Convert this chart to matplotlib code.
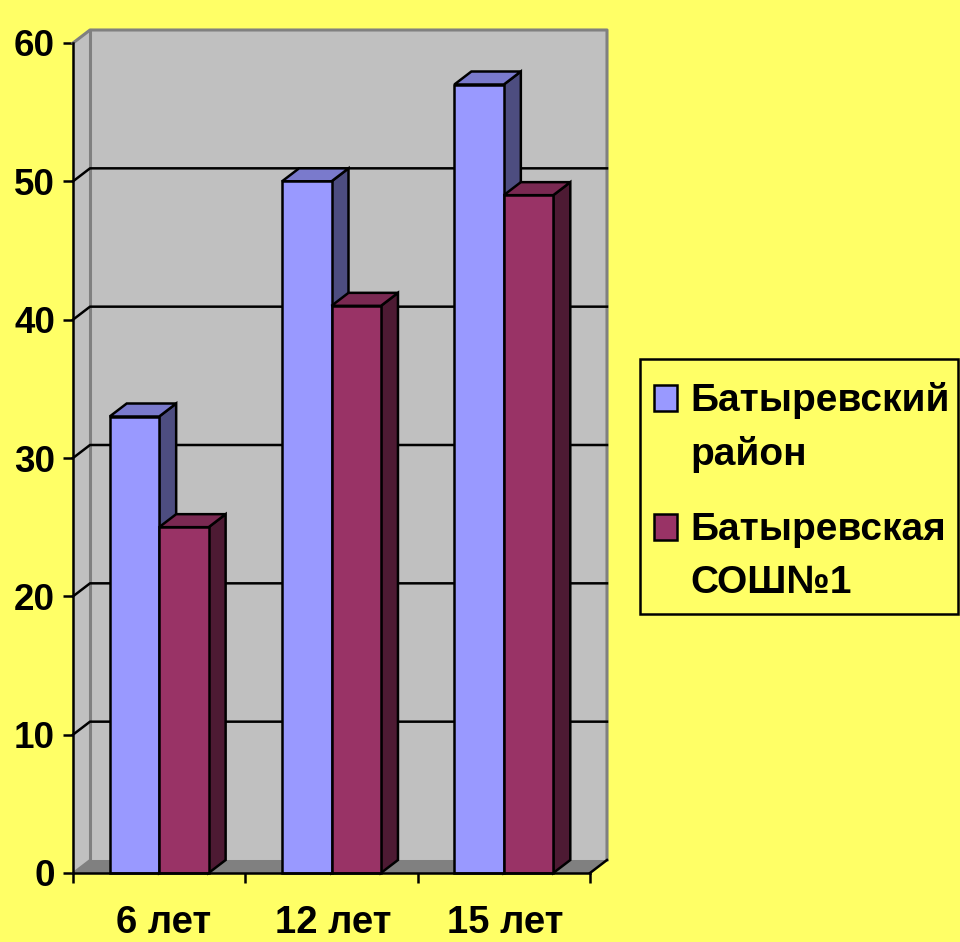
import matplotlib
matplotlib.use("Agg")
import matplotlib.pyplot as plt
from matplotlib.patches import Patch, Polygon, Rectangle

categories = ["6 лет", "12 лет", "15 лет"]
series_names = ["Батыревский\nрайон", "Батыревская\nСОШ№1"]
rayon = [33, 50, 57]
school = [25, 41, 49]
y_ticks = [0, 10, 20, 30, 40, 50, 60]

BG = "#FFFF66"
FRONT = ["#9999FF", "#993366"]
TOP = ["#7A7ACC", "#7A2952"]
SIDE = ["#4D4D80", "#4D1A33"]
WALL = "#C0C0C0"
EDGE = "#808080"

# глубина псевдо-3D в единицах данных: 17 px вправо, 13 px вверх
DX = 17 / 172.3
DY = 13 / 13.83
BAR_W = 0.287
LW = 1.8

fig = plt.figure(figsize=(9.6, 9.42), dpi=100, facecolor=BG)
ax = fig.add_axes([73 / 960, 69 / 942, 517 / 960, 830 / 942], facecolor="none")
ax.set_xlim(0, 3)
ax.set_ylim(0, 60)


def poly(points, face, edge="none", lw=0, z=1):
    ax.add_patch(Polygon(points, closed=True, facecolor=face, edgecolor=edge,
                         linewidth=lw, zorder=z, clip_on=False))


# стенки и пол
poly([(0, 0), (DX, DY), (DX, 60 + DY), (0, 60)], WALL, z=1)
poly([(DX, DY), (3 + DX, DY), (3 + DX, 60 + DY), (DX, 60 + DY)], WALL, z=1)
poly([(0, 0), (3, 0), (3 + DX, DY), (DX, DY)], EDGE, z=1)
ax.plot([0, DX, 3 + DX, 3 + DX], [60, 60 + DY, 60 + DY, DY], color=EDGE, lw=2.2, zorder=2, clip_on=False)
ax.plot([DX, DX], [DY, 60 + DY], color=EDGE, lw=2.2, zorder=2, clip_on=False)
ax.plot([0, DX], [0, DY], color=EDGE, lw=1.5, zorder=2, clip_on=False)

# линии сетки
for v in y_ticks[1:-1]:
    ax.plot([0, DX, 3 + DX], [v, v + DY, v + DY], color="black", lw=LW, zorder=3, clip_on=False)
ax.plot([3, 3 + DX], [0, DY], color="black", lw=LW, zorder=3, clip_on=False)

# столбцы: сначала первый ряд, второй перекрывает его боковую грань
for s, values in enumerate([rayon, school]):
    z = 4 + s
    for i, v in enumerate(values):
        left = i + 0.5 - BAR_W + s * BAR_W
        right = left + BAR_W
        poly([(right, 0), (right + DX, DY), (right + DX, v + DY), (right, v)],
             SIDE[s], "black", LW, z)
        poly([(left, v), (right, v), (right + DX, v + DY), (left + DX, v + DY)],
             TOP[s], "black", LW, z)
    ax.bar([i + 0.5 - BAR_W + s * BAR_W for i in range(3)], values, width=BAR_W, align="edge",
           color=FRONT[s], edgecolor="black", linewidth=LW, zorder=z + 0.5, clip_on=False)

for side in ["top", "right"]:
    ax.spines[side].set_visible(False)
for side in ["left", "bottom"]:
    ax.spines[side].set_linewidth(LW)
    ax.spines[side].set_zorder(8)

ax.set_yticks(y_ticks)
ax.set_yticklabels([str(v) for v in y_ticks], family="Liberation Sans", fontweight="bold", fontsize=26.5)
ax.tick_params(axis="y", length=7.5, width=LW, pad=5.5)
ax.set_xticks([0, 1, 2, 3])
ax.set_xticklabels([])
ax.tick_params(axis="x", which="major", length=7.5, width=LW)
ax.set_xticks([0.525, 1.51, 2.51], minor=True)
ax.set_xticklabels(categories, minor=True, family="Liberation Sans", fontweight="bold", fontsize=27.5)
ax.tick_params(axis="x", which="minor", length=0, pad=23)

# рамка легенды отдельно: у неё фиксированный размер
fig.add_artist(Rectangle((640 / 960, 1 - 614 / 942), 318 / 960, 255 / 942, transform=fig.transFigure,
                         facecolor=BG, edgecolor="black", linewidth=LW, zorder=4))
handles = [Patch(facecolor=FRONT[k], edgecolor="black", linewidth=LW) for k in range(2)]
leg = fig.legend(handles, series_names, loc="upper left", bbox_to_anchor=(654 / 960, 1 - 382 / 942),
                 bbox_transform=fig.transFigure, borderaxespad=0, frameon=False,
                 handlelength=0.6, handleheight=0.67, handletextpad=0.34, borderpad=0, labelspacing=1.0,
                 prop={"family": "Liberation Sans", "weight": "bold", "size": 28})
for t in leg.get_texts():
    t.set_linespacing(1.6)
# маркер ставим на уровень первой строки подписи
for h in leg.legend_handles:
    h.set_y(h.get_y() + 21.5)

fig.savefig("out.png", dpi=100, facecolor=BG)
